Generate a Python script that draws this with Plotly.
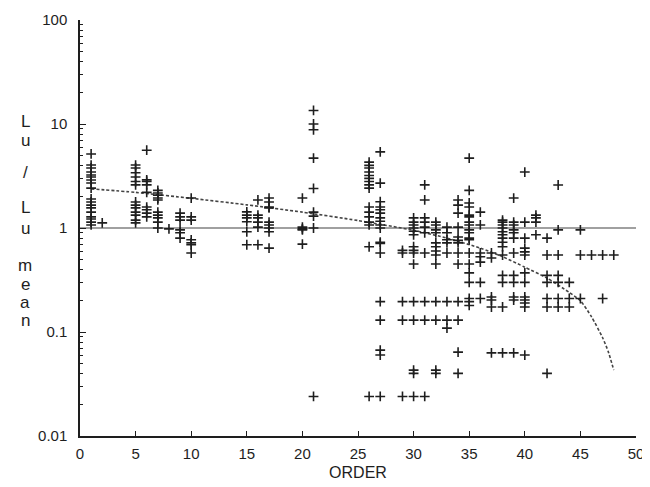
import plotly.graph_objects as go

# ---- data ----
orders = [1, 2, 5, 6, 7, 8, 9, 10, 15, 16, 17, 20, 21, 26, 27, 29, 30, 31, 32, 33,
          34, 35, 36, 37, 38, 39, 40, 41, 42, 43, 44, 45, 46, 47, 48]

ratios = [
    [5.15, 4.03, 3.78, 3.45, 3.23, 3.09, 2.89, 2.71, 2.42, 1.9, 1.78, 1.66, 1.56, 1.42, 1.28, 1.22, 1.14, 1.07],  # 1
    [1.12],                                                                    # 2
    [4.03, 3.78, 3.4, 3.09, 2.8, 2.6, 1.78, 1.66, 1.56, 1.42, 1.33, 1.19, 1.12],  # 5
    [5.6, 2.9, 2.8, 2.6, 2.2, 1.59, 1.5, 1.39, 1.28],                          # 6
    [2.3, 2.17, 2.07, 1.94, 1.86, 1.42, 1.33, 1.25, 1.14, 1.0],                # 7
    [0.98],                                                                    # 8
    [1.39, 1.28, 1.19, 0.96, 0.9, 0.8],                                        # 9
    [1.94, 1.28, 1.19, 0.77, 0.72, 0.69, 0.575],                               # 10
    [1.43, 1.33, 1.25, 1.15, 0.92, 0.69],                                      # 15
    [1.86, 1.33, 1.25, 1.14, 1.02, 0.69],                                      # 16
    [1.94, 1.78, 1.59, 1.56, 1.14, 1.07, 1.0, 0.92, 0.64],                     # 17
    [1.94, 1.02, 0.98, 0.96, 0.7],                                             # 20
    [13.5, 10.0, 8.8, 4.7, 2.4, 1.42, 1.3, 1.0, 0.024],                        # 21
    [4.3, 4.0, 3.78, 3.45, 3.2, 3.0, 2.8, 2.6, 2.42, 1.59, 1.42, 1.28, 1.14, 1.07, 0.66, 0.024],  # 26
    [5.4, 2.7, 1.79, 1.59, 1.5, 1.39, 1.25, 1.16, 1.07, 1.0, 0.73, 0.71, 0.575,
     0.196, 0.13, 0.067, 0.06, 0.024],                                         # 27
    [0.61, 0.575, 0.196, 0.13, 0.024],                                         # 29
    [1.25, 1.14, 1.07, 1.0, 0.93, 0.86, 0.66, 0.61, 0.575, 0.45, 0.196, 0.13,
     0.043, 0.04, 0.024],                                                      # 30
    [2.6, 1.86, 1.25, 1.14, 1.02, 0.9, 0.575, 0.196, 0.13, 0.024],             # 31
    [1.14, 1.07, 0.96, 0.9, 0.72, 0.66, 0.6, 0.55, 0.45, 0.196, 0.13, 0.043, 0.04],  # 32
    [1.02, 0.9, 0.77, 0.72, 0.575, 0.196, 0.13, 0.109],                        # 33
    [1.86, 1.66, 1.39, 1.02, 0.82, 0.76, 0.72, 0.575, 0.45, 0.196, 0.13, 0.064, 0.04],  # 34
    [4.7, 2.3, 1.74, 1.59, 1.33, 1.28, 1.14, 1.07, 0.96, 0.9, 0.8, 0.77, 0.575,
     0.45, 0.37, 0.3, 0.21, 0.196, 0.18],                                      # 35
    [1.42, 1.07, 0.575, 0.53, 0.47, 0.3, 0.21],                                # 36
    [0.575, 0.515, 0.217, 0.203, 0.174, 0.063],                                # 37
    [1.19, 1.14, 1.07, 1.0, 0.92, 0.86, 0.8, 0.73, 0.66, 0.55, 0.35, 0.3, 0.174, 0.063],  # 38
    [1.94, 1.14, 1.07, 0.96, 0.9, 0.8, 0.575, 0.35, 0.3, 0.217, 0.203, 0.063],  # 39
    [3.45, 1.14, 0.8, 0.64, 0.59, 0.55, 0.37, 0.3, 0.217, 0.203, 0.19, 0.174, 0.06],  # 40
    [1.33, 1.25, 1.14, 0.86],                                                  # 41
    [0.8, 0.55, 0.35, 0.3, 0.21, 0.174, 0.04],                                 # 42
    [2.59, 0.96, 0.55, 0.35, 0.3, 0.21, 0.174],                                # 43
    [0.3, 0.21, 0.174],                                                        # 44
    [0.96, 0.55, 0.21],                                                        # 45
    [0.55],                                                                    # 46
    [0.55, 0.21],                                                              # 47
    [0.55],                                                                    # 48
]

trend_orders = [1, 5, 10, 15, 20, 25, 30, 33, 36, 38, 40, 42, 44, 45, 46, 47, 47.5, 48]
trend_values = [2.38, 2.2, 1.93, 1.67, 1.42, 1.18, 0.95, 0.8, 0.64, 0.53, 0.42, 0.33,
                0.24, 0.2, 0.14, 0.088, 0.065, 0.043]

mean_level = 1.0
y_tick_values = [0.01, 0.1, 1, 10, 100]
y_tick_text = ["0.01", "0.1", "1", "10", "100"]
x_tick_values = [0, 5, 10, 15, 20, 25, 30, 35, 40, 45, 50]

# ---- flatten ----
xs, ys = [], []
for o, vals in zip(orders, ratios):
    for v in vals:
        xs.append(o)
        ys.append(v)

minor_vals = [m * 10 ** e for e in (-2, -1, 0, 1) for m in range(2, 10)]

# page body has an 8px margin; figure sized so plot area lands at x 80-636, y 20-436
OFF = 8
W, H = 650 - OFF, 487 - OFF
L, R, T, B = 80 - OFF, 14, 20 - OFF, 51
ink = "#1e1e1e"
font = "Arial, Liberation Sans, Helvetica, sans-serif"

fig = go.Figure()
fig.add_trace(go.Scatter(
    x=[0, 50], y=[mean_level, mean_level], mode="lines",
    line=dict(color="#808080", width=1.5), hoverinfo="skip", showlegend=False))
fig.add_trace(go.Scatter(
    x=trend_orders, y=trend_values, mode="lines",
    line=dict(color="#444444", width=1.6, dash="3px,2px", shape="spline", smoothing=0.6),
    showlegend=False))
fig.add_trace(go.Scatter(
    x=xs, y=ys, mode="markers",
    marker=dict(symbol="cross-thin", size=7, line=dict(color=ink, width=1.6), color=ink),
    showlegend=False))

fig.update_layout(
    width=W, height=H,
    margin=dict(l=L, r=R, t=T, b=B, pad=0, autoexpand=False),
    paper_bgcolor="white", plot_bgcolor="white",
    font=dict(family=font, size=15, color=ink),
    xaxis=dict(
        range=[0, 50], tickvals=x_tick_values, ticks="inside", ticklen=5,
        tickcolor=ink, tickwidth=1.2, showline=True, linecolor=ink, linewidth=1.5,
        showgrid=False, zeroline=False, tickfont=dict(size=15), automargin=False,
        ticklabelstandoff=3,
        title=dict(text="ORDER", font=dict(size=16), standoff=6),
    ),
    yaxis=dict(
        type="log", range=[-2, 2], tickvals=y_tick_values, ticktext=y_tick_text,
        ticks="inside", ticklen=6, tickcolor=ink, tickwidth=1.2, automargin=False,
        showline=True, linecolor=ink, linewidth=1.5, showgrid=False, zeroline=False,
        tickfont=dict(size=15), ticklabelstandoff=8,
        minor=dict(tickvals=minor_vals, ticks="inside", ticklen=3, tickcolor=ink,
                   tickwidth=1, showgrid=False),
    ),
)

# stacked y-axis title letters (window pixel positions from reference)
letters = [("L", 121), ("u", 140), ("/", 172), ("L", 208), ("u", 228),
           ("m", 265), ("e", 284), ("a", 302), ("n", 320)]
plot_left, plot_right, plot_top, plot_bottom = 80, 636, 20, 436
for ch, py in letters:
    fig.add_annotation(
        text=ch, xref="paper", yref="paper",
        x=(25 - plot_left) / (plot_right - plot_left),
        y=(plot_bottom - py) / (plot_bottom - plot_top),
        xanchor="center", yanchor="middle", showarrow=False,
        font=dict(family=font, size=17, color=ink))

fig.write_html("out.html")
